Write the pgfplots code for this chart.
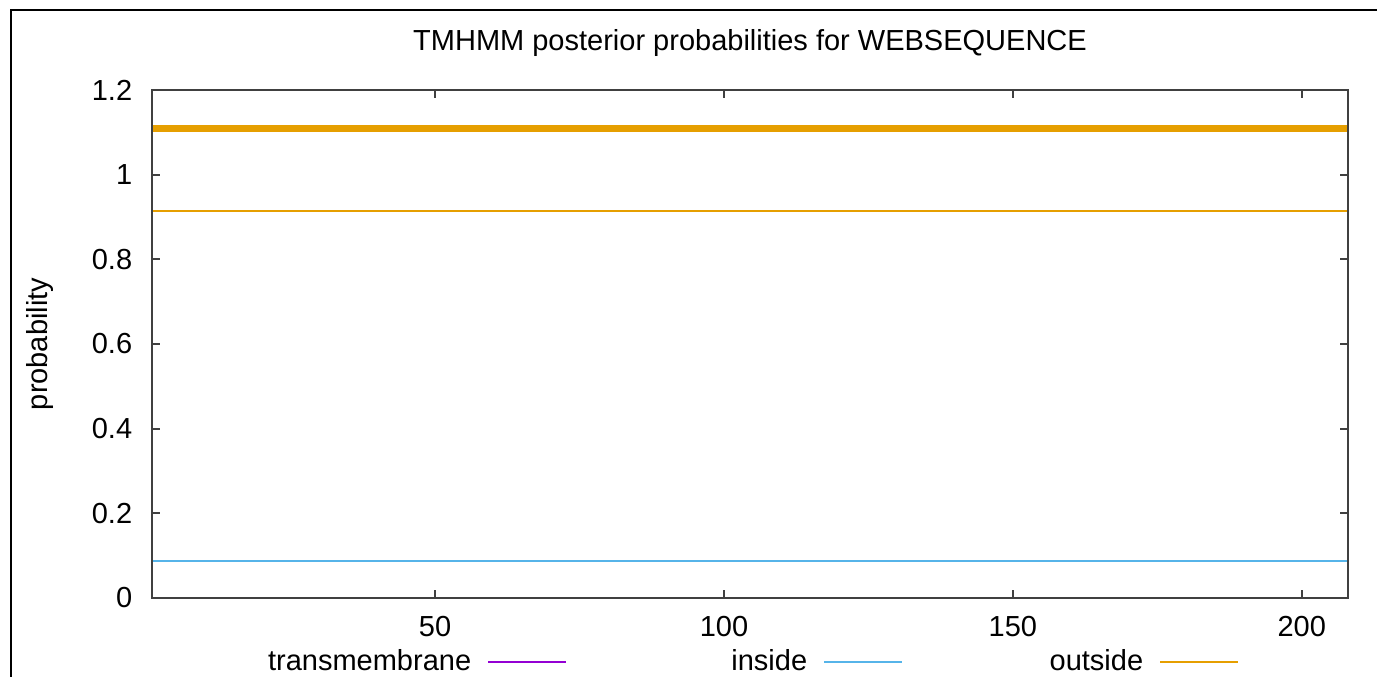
\documentclass[border=0pt]{standalone}
\usepackage{fontspec}
\setmainfont{Liberation Sans}
\usepackage{pgfplots}
\pgfplotsset{compat=1.18}
\definecolor{tmpurple}{HTML}{9400D3}
\definecolor{tmblue}{HTML}{56B4E9}
\definecolor{tmorange}{HTML}{E69F00}
\definecolor{axgray}{HTML}{404040}
\begin{document}
\fontsize{29}{35}\selectfont
\begin{tikzpicture}
\useasboundingbox (0,0) rectangle (1377pt,677pt);
\draw[line width=1.5pt, black] (11pt,-20pt) -- (11pt,667pt) -- (1400pt,667pt);
\begin{axis}[
  at={(152pt,79pt)}, anchor=south west,
  scale only axis, width=1196pt, height=508pt,
  xmin=1, xmax=208, ymin=0, ymax=1.2,
  xtick={50,100,150,200}, ytick={0,0.2,0.4,0.6,0.8,1,1.2},
  tick align=inside, major tick length=8pt,
  axis on top,
  axis line style={axgray, line width=2pt},
  every tick/.style={axgray, line width=2pt},
  tick label style={font=\fontsize{29}{35}\selectfont, text=black},
  /pgf/number format/assume math mode=true,
  yticklabel style={xshift=-10pt},
  xticklabel style={yshift=-8pt},
  ylabel={probability},
  ylabel style={at={(axis description cs:-0.0936,0.5)}, anchor=center, font=\fontsize{29}{35}\selectfont},
  title={TMHMM posterior probabilities for WEBSEQUENCE},
  title style={at={(axis description cs:0.5,1)}, anchor=base, yshift=33pt, font=\fontsize{29}{35}\selectfont},
  legend columns=3,
  legend plot pos=right,
  legend style={draw=none, fill=none, inner sep=0pt,
    at={(axis description cs:0.0978,-0.126)}, anchor=west,
    nodes={inner sep=0pt, font=\fontsize{29}{35}\selectfont},
    /tikz/every odd column/.append style={column sep=16pt},
    /tikz/every even column/.append style={column sep=38pt}},
  legend image code/.code={\draw[#1] (0pt,0pt) -- (78pt,0pt);},
]
\addplot[tmpurple, line width=2pt] coordinates {(1,0) (208,0)};
\addlegendentry{\makebox[202pt][r]{transmembrane}}
\addplot[tmblue, line width=2pt] coordinates {(1,0.087) (208,0.087)};
\addlegendentry{\makebox[202pt][r]{inside}}
\addplot[tmorange, line width=2pt] coordinates {(1,0.913) (208,0.913)};
\addlegendentry{\makebox[202pt][r]{outside}}
\addplot[tmorange, line width=7pt, forget plot] coordinates {(1,1.11) (208,1.11)};
\end{axis}
\end{tikzpicture}
\end{document}
